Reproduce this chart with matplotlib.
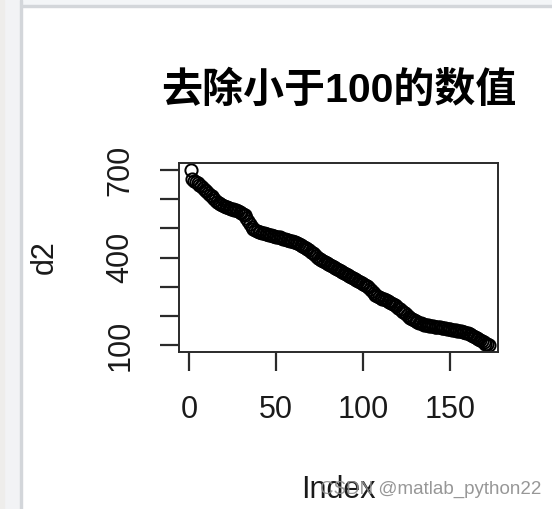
import matplotlib
matplotlib.use("Agg")
import matplotlib.pyplot as plt
from matplotlib.patches import Rectangle

# sorted values >= 100
d2 = [
    700, 670, 664, 660, 655, 650, 645, 638, 633, 627,
    620, 614, 610, 605, 598, 592, 588, 584, 581, 578,
    575, 572, 570, 568, 566, 564, 562, 560, 557, 554,
    550, 545, 536, 527, 515, 505, 498, 494, 491, 489,
    487, 486, 484, 482, 480, 479, 477, 475, 474, 472,
    470, 469, 467, 465, 464, 462, 460, 458, 456, 454,
    452, 449, 446, 443, 440, 437, 434, 430, 426, 421,
    416, 411, 405, 400, 396, 392, 388, 385, 382, 379,
    376, 372, 368, 364, 361, 358, 354, 350, 346, 343,
    340, 336, 333, 330, 326, 323, 320, 316, 313, 310,
    306, 302, 298, 293, 287, 280, 273, 268, 265, 262,
    260, 258, 255, 252, 249, 246, 242, 238, 234, 229,
    224, 219, 214, 209, 204, 198, 193, 189, 185, 182,
    179, 177, 175, 173, 171, 170, 168, 167, 166, 165,
    164, 163, 162, 161, 160, 159, 158, 157, 156, 155,
    154, 153, 152, 150, 149, 148, 147, 145, 143, 141,
    138, 135, 132, 129, 125, 122, 118, 114, 110, 106,
    103, 101,
]
index = list(range(1, len(d2) + 1))

x_ticks = [0, 50, 100, 150]
y_ticks = [100, 200, 300, 400, 500, 600, 700]
y_labels = ["100", "", "", "400", "", "", "700"]

title = "去除小于100的数值"
W, H = 552, 509

fig = plt.figure(figsize=(W / 100, H / 100), dpi=100)

# window chrome from the screenshot
fig.patches.append(Rectangle((0, 0), 20 / W, 1, transform=fig.transFigure,
                             color="#f2f3f5", zorder=-5))
fig.patches.append(Rectangle((0, 0), 4 / W, 1, transform=fig.transFigure,
                             color="#eeedeb", zorder=-4))
fig.patches.append(Rectangle((20 / W, 0), 2 / W, 1, transform=fig.transFigure,
                             color="#d3d6da", zorder=-4))
fig.patches.append(Rectangle((22 / W, 1 - 5 / H), 1, 5 / H, transform=fig.transFigure,
                             color="#f3f5f7", zorder=-5))
fig.patches.append(Rectangle((22 / W, 1 - 7 / H), 1, 2 / H, transform=fig.transFigure,
                             color="#d3d6da", zorder=-4))

left, right, top, bottom = 178.5, 498, 163, 352
ax = fig.add_axes([left / W, 1 - bottom / H, (right - left) / W, (bottom - top) / H])

ax.plot(index, d2, "o", mfc="none", mec="black", ms=8.8, mew=1.4)

ax.set_xlim(-6.0, 177.3)
ax.set_ylim(77, 724)
ax.set_xticks(x_ticks)
ax.set_yticks(y_ticks)
ax.set_yticklabels(y_labels, rotation=90, va="center")

for lab in ax.get_xticklabels() + ax.get_yticklabels():
    lab.set_fontfamily("Liberation Sans")
    lab.set_fontsize(22)
    lab.set_color("#1a1a1a")

ax.tick_params(length=14, width=1.6, color="#2a2a2a", pad=17)
for sp in ax.spines.values():
    sp.set_linewidth(1.4)
    sp.set_color("#2a2a2a")

fig.text(339 / W, 1 - 90 / H, title, ha="center", va="center",
         fontsize=29.5, fontweight="bold",
         family=["Liberation Sans", "Noto Sans CJK SC"])
fig.text(45 / W, 1 - 257 / H, "d2", ha="center", va="center", rotation=90,
         fontsize=22, family="Liberation Sans", color="#1a1a1a")
fig.text(338 / W, 1 - 490 / H, "Index", ha="center", va="center",
         fontsize=22, family="Liberation Sans", color="#1a1a1a")
fig.text(541 / W, 1 - 489 / H, "CSDN @matlab_python22", ha="right", va="center",
         fontsize=13.5, family="Liberation Sans", color="#8c8c8c", alpha=0.9)

fig.savefig("out.png", dpi=100)
